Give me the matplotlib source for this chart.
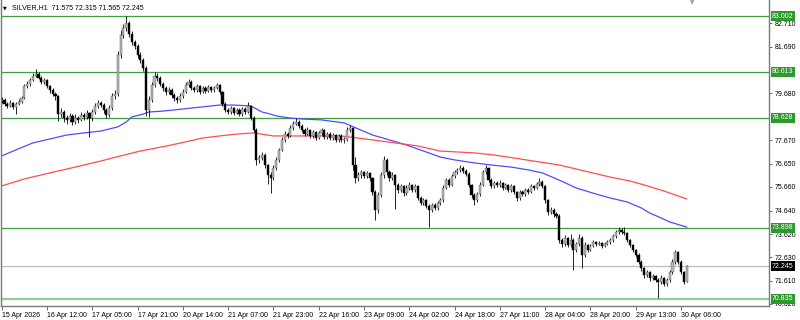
import matplotlib
matplotlib.use('Agg')
import matplotlib.pyplot as plt
import matplotlib.transforms as mtransforms

# hourly SILVER bars, 15 Apr 20:00 .. 30 Apr 08:00 (open = previous close)
first_open = 79.35
closes = [
    79.40, 79.23, 79.14, 79.27, 79.10, 79.23, 79.31, 79.48, 79.99, 80.08,
    80.26, 80.43, 80.52, 80.34, 80.17, 80.26, 79.99, 79.83, 79.65, 79.57,
    78.79, 78.88, 78.62, 78.54, 78.71, 78.45, 78.62, 78.54, 78.75, 78.67,
    78.84, 78.62, 78.88, 79.14, 79.27, 79.18, 78.97, 78.75, 79.05, 79.57,
    79.65, 81.33, 82.19, 82.50, 82.71, 82.24, 81.89, 81.72, 81.33, 81.12,
    80.77, 78.97, 79.40, 80.04, 80.43, 80.34, 80.08, 79.91, 79.74, 79.83,
    79.61, 79.48, 79.40, 79.57, 79.74, 80.04, 80.17, 79.91, 79.83, 79.99,
    79.74, 79.91, 79.78, 79.96, 79.83, 79.91, 80.04, 79.74, 79.23, 78.97,
    78.88, 79.05, 78.84, 78.97, 78.79, 79.01, 78.88, 79.14, 78.62, 78.11,
    76.82, 76.89, 77.03, 76.59, 76.16, 76.03, 76.47, 76.82, 77.25, 77.68,
    77.94, 77.85, 78.19, 78.37, 78.45, 78.28, 78.11, 77.94, 78.11, 77.85,
    78.02, 77.76, 77.98, 78.11, 77.81, 77.94, 77.76, 77.89, 77.68, 77.85,
    77.68, 77.68, 78.11, 78.19, 76.61, 76.03, 76.16, 76.29, 76.12, 76.25,
    76.03, 75.44, 74.66, 75.31, 76.16, 76.82, 76.29, 76.03, 76.16, 75.74,
    75.52, 75.70, 75.39, 75.61, 75.74, 75.52, 75.70, 75.18, 74.97, 75.09,
    74.84, 74.66, 74.88, 74.75, 74.97, 75.09, 75.61, 75.95, 75.74, 76.12,
    76.29, 76.37, 76.47, 76.34, 76.21, 75.74, 75.31, 75.09, 75.35, 75.74,
    76.29, 76.47, 75.95, 75.70, 75.83, 75.74, 75.83, 75.61, 75.74, 75.52,
    75.70, 75.44, 75.18, 75.44, 75.35, 75.52, 75.44, 75.70, 75.61, 75.78,
    75.87, 75.70, 75.09, 74.57, 74.66, 74.48, 74.40, 73.37, 73.19, 73.46,
    73.16, 73.37, 72.94, 73.20, 73.46, 72.72, 73.16, 72.94, 73.11, 73.29,
    73.20, 73.24, 73.11, 73.20, 73.29, 73.37, 73.54, 73.72, 73.80, 73.72,
    73.67, 73.37, 73.16, 72.94, 72.72, 72.42, 72.16, 71.86, 71.99, 71.73,
    71.82, 71.65, 71.56, 71.73, 71.47, 71.65, 71.99, 72.42, 72.85, 72.42,
    71.99, 71.575, 72.245,
]
highs = [
    79.52, 79.48, 79.31, 79.38, 79.33, 79.30, 79.42, 79.58, 80.08, 80.20,
    80.35, 80.55, 80.73, 80.60, 80.42, 80.36, 80.32, 80.05, 79.90, 79.75,
    79.62, 79.05, 78.95, 78.75, 78.85, 78.80, 78.78, 78.70, 78.88, 78.82,
    78.95, 78.90, 79.00, 79.25, 79.40, 79.35, 79.25, 79.05, 79.18, 79.70,
    79.82, 81.50, 82.40, 82.65, 83.00, 82.80, 82.35, 82.00, 81.80, 81.45,
    81.20, 80.85, 79.55, 80.15, 80.62, 80.58, 80.42, 80.18, 79.98, 79.95,
    79.90, 79.70, 79.58, 79.68, 79.85, 80.15, 80.30, 80.25, 80.00, 80.10,
    80.05, 80.02, 79.98, 80.06, 80.02, 80.00, 80.12, 80.10, 79.80, 79.30,
    79.05, 79.15, 79.10, 79.06, 79.04, 79.10, 79.08, 79.30, 79.20, 78.70,
    78.20, 77.05, 77.15, 77.10, 76.65, 76.30, 76.60, 76.95, 77.35, 77.80,
    78.05, 78.02, 78.30, 78.48, 78.63, 78.52, 78.35, 78.18, 78.22, 78.16,
    78.12, 78.08, 78.08, 78.20, 78.15, 78.04, 78.00, 77.98, 77.95, 77.95,
    77.92, 77.80, 78.22, 78.32, 78.25, 76.95, 76.28, 76.40, 76.35, 76.35,
    76.32, 76.10, 75.52, 75.42, 76.28, 76.99, 76.90, 76.38, 76.28, 76.22,
    75.82, 75.80, 75.76, 75.72, 75.85, 75.80, 75.80, 75.76, 75.25, 75.18,
    75.15, 74.92, 74.98, 74.95, 75.06, 75.20, 75.72, 76.05, 76.02, 76.22,
    76.40, 76.48, 76.58, 76.55, 76.42, 76.28, 75.80, 75.40, 75.45, 75.85,
    76.40, 76.62, 76.52, 76.02, 75.92, 75.90, 75.94, 75.88, 75.84, 75.80,
    75.78, 75.76, 75.50, 75.52, 75.52, 75.62, 75.60, 75.80, 75.76, 75.88,
    76.05, 75.95, 75.76, 75.15, 74.80, 74.75, 74.58, 74.48, 73.48, 73.58,
    73.52, 73.62, 73.45, 73.30, 73.62, 73.55, 73.28, 73.22, 73.20, 73.38,
    73.35, 73.32, 73.30, 73.28, 73.36, 73.45, 73.62, 73.82, 73.92, 73.90,
    73.95, 73.72, 73.42, 73.22, 73.00, 72.80, 72.50, 72.22, 72.08, 72.05,
    71.92, 71.88, 71.72, 71.85, 71.80, 71.75, 72.08, 72.55, 72.94, 72.90,
    72.50, 72.05, 72.315,
]
lows = [
    79.28, 79.15, 79.05, 79.08, 79.02, 78.80, 79.18, 79.25, 79.42, 79.90,
    80.00, 80.20, 80.38, 80.28, 80.10, 80.08, 79.90, 79.70, 79.55, 79.40,
    78.49, 78.65, 78.45, 78.38, 78.45, 78.30, 78.36, 78.40, 78.48, 78.52,
    78.58, 77.81, 78.50, 78.80, 79.05, 79.08, 78.85, 78.62, 78.68, 78.98,
    79.45, 79.55, 81.20, 82.05, 82.35, 82.10, 81.78, 81.60, 81.20, 81.00,
    80.65, 78.70, 78.66, 79.30, 79.95, 80.20, 79.98, 79.80, 79.62, 79.65,
    79.50, 79.35, 79.28, 79.32, 79.50, 79.68, 79.95, 79.82, 79.72, 79.75,
    79.65, 79.68, 79.70, 79.72, 79.75, 79.76, 79.85, 79.66, 79.15, 78.88,
    78.78, 78.80, 78.76, 78.78, 78.70, 78.72, 78.80, 78.82, 78.55, 78.00,
    76.60, 76.70, 76.80, 76.45, 75.80, 75.39, 75.95, 76.40, 76.75, 77.20,
    77.60, 77.75, 77.80, 78.10, 78.30, 78.18, 78.02, 77.85, 77.88, 77.76,
    77.78, 77.66, 77.70, 77.90, 77.72, 77.74, 77.66, 77.68, 77.58, 77.60,
    77.58, 77.55, 77.62, 78.02, 76.39, 75.81, 75.92, 76.05, 76.02, 76.05,
    75.92, 75.30, 74.23, 74.55, 75.22, 76.05, 76.15, 75.90, 75.95, 74.70,
    75.40, 75.42, 75.28, 75.30, 75.52, 75.42, 75.45, 75.08, 74.86, 74.88,
    74.75, 73.93, 74.58, 74.66, 74.68, 74.90, 75.02, 75.55, 75.65, 75.68,
    76.05, 76.22, 76.30, 76.25, 76.12, 75.65, 75.20, 74.88, 75.00, 75.28,
    75.68, 76.20, 75.85, 75.60, 75.62, 75.65, 75.66, 75.52, 75.55, 75.44,
    75.45, 75.35, 75.05, 75.10, 75.26, 75.28, 75.35, 75.38, 75.52, 75.55,
    75.70, 75.60, 74.98, 74.45, 74.48, 74.36, 74.30, 73.25, 73.05, 73.10,
    73.05, 73.08, 72.08, 72.85, 73.12, 72.15, 72.65, 72.85, 72.88, 73.05,
    73.12, 73.14, 73.04, 73.06, 73.14, 73.22, 73.30, 73.48, 73.65, 73.64,
    73.58, 73.28, 73.05, 72.85, 72.62, 72.32, 72.05, 71.75, 71.78, 71.62,
    71.65, 71.55, 70.88, 71.48, 71.38, 71.40, 71.58, 71.92, 72.35, 72.32,
    71.90, 71.50, 71.565,
]

# moving averages (bar index, price)
blue_bars = [0, 5, 11, 17, 23, 29, 35, 38, 41, 44, 46, 50, 52, 57, 61, 67, 71,
             77, 82, 88, 90, 92, 95, 97, 102, 106, 113, 121, 126, 131, 137, 143,
             150, 155, 160, 167, 173, 180, 186, 191, 197, 203, 210, 215, 221,
             226, 229, 233, 236, 242]
blue_vals = [76.99, 77.25, 77.55, 77.72, 77.89, 77.98, 78.06, 78.15, 78.24, 78.45,
             78.67, 78.79, 78.88, 78.92, 78.97, 79.05, 79.10, 79.18, 79.18, 79.14,
             79.01, 78.88, 78.79, 78.71, 78.62, 78.58, 78.54, 78.41, 78.15, 77.89,
             77.68, 77.46, 77.16, 76.94, 76.82, 76.69, 76.60, 76.51, 76.39, 76.26,
             75.95, 75.61, 75.35, 75.18, 75.01, 74.75, 74.53, 74.32, 74.15, 73.93]
red_bars = [0, 8, 17, 26, 35, 42, 49, 60, 71, 77, 83, 89, 96, 106, 120, 131, 139,
            147, 155, 167, 174, 181, 190, 197, 206, 215, 222, 227, 234, 242]
red_vals = [75.70, 76.00, 76.26, 76.51, 76.77, 76.99, 77.20, 77.46, 77.76, 77.85,
            77.93, 77.98, 77.85, 77.85, 77.85, 77.68, 77.55, 77.42, 77.20, 77.12,
            77.03, 76.90, 76.73, 76.60, 76.34, 76.08, 75.91, 75.74, 75.48, 75.14]

levels = [83.002, 80.613, 78.628, 73.898]
low_level = 70.835
bid = 72.245

price_ticks = [82.710, 81.690, 79.680, 77.670, 76.650, 75.660,
               74.640, 73.620, 72.630, 71.610, 70.620]
time_ticks = [0, 16, 32, 48, 64, 80, 96, 112, 128, 144, 160, 176, 192, 208, 224, 240]
time_labels = ['15 Apr 2026', '16 Apr 12:00', '17 Apr 05:00', '17 Apr 21:00',
               '20 Apr 14:00', '21 Apr 07:00', '21 Apr 23:00', '22 Apr 16:00',
               '23 Apr 09:00', '24 Apr 02:00', '24 Apr 18:00', '27 Apr 11:00',
               '28 Apr 04:00', '28 Apr 20:00', '29 Apr 13:00', '30 Apr 06:00']

plt.rcParams['font.family'] = ['Liberation Sans', 'DejaVu Sans']

fig = plt.figure(figsize=(8, 3.2), dpi=100)
ax = fig.add_axes([1 / 800, 14.5 / 320, 768 / 800, 305.5 / 320])

opens = [first_open] + closes[:-1]
for i, (o, c, h, l) in enumerate(zip(opens, closes, highs, lows)):
    h = max(h, o, c)
    l = min(l, o, c)
    ax.vlines(i, l, h, color='black', lw=0.6, zorder=3)
    bottom = min(o, c)
    height = max(abs(c - o), 0.03)
    if c >= o:
        ax.bar(i, height, bottom=bottom, width=0.75, color='#b8b8b8',
               edgecolor='#505050', linewidth=0.3, zorder=4)
    else:
        ax.bar(i, height, bottom=bottom, width=0.75, color='black',
               edgecolor='black', linewidth=0.3, zorder=4)

ax.plot(blue_bars, blue_vals, color='#4d4dff', lw=0.9, zorder=2)
ax.plot(red_bars, red_vals, color='#ff4d4d', lw=0.9, zorder=2)

for lv in levels:
    ax.axhline(lv, color='#3f9f3f', lw=0.9, zorder=1)
ax.axhline(low_level, color='#8fcf8f', lw=1.6, zorder=1)
ax.axhline(bid, color='#b8bfcc', lw=0.9, zorder=1)

ax.set_xlim(-0.25, 271.1)
ax.set_ylim(70.554, 83.70)

ax.yaxis.tick_right()
ax.set_yticks(price_ticks)
ax.set_yticklabels([f'{p:.3f}' for p in price_ticks])
ax.set_xticks(time_ticks)
ax.set_xticklabels(time_labels, ha='left')
ax.tick_params(axis='y', length=2.5, width=0.6, pad=1.5, labelsize=5, color='#555555')
ax.tick_params(axis='x', length=3, width=0.6, pad=1.5, labelsize=5, color='#555555')

ax.spines['top'].set_visible(False)
for s in ['left', 'right', 'bottom']:
    ax.spines[s].set_color('#7a7a7a')
    ax.spines[s].set_linewidth(1)

# price labels on the right scale
tr = mtransforms.blended_transform_factory(ax.transAxes, ax.transData)
for lv in levels + [low_level]:
    ax.text(1.004, lv, f'{lv:.3f}', transform=tr, fontsize=5, color='white',
            va='center', ha='left', clip_on=False, zorder=10,
            bbox=dict(boxstyle='square,pad=0.2', fc='#2e9a2e', ec='none'))
ax.text(1.004, bid, f'{bid:.3f}', transform=tr, fontsize=5, color='white',
        va='center', ha='left', clip_on=False, zorder=10,
        bbox=dict(boxstyle='square,pad=0.2', fc='black', ec='none'))

fig.text(3 / 800, 1 - 8 / 320, '\u25bc', fontsize=3.5, va='center', family='DejaVu Sans')
fig.text(12 / 800, 1 - 8 / 320, 'SILVER,H1  71.575 72.315 71.565 72.245',
         fontsize=5, va='center')
fig.text(690 / 800, 1 - 3 / 320, '\u25bc', fontsize=4, va='center',
         color='#9a9a9a', family='DejaVu Sans')

fig.savefig('out.png', dpi=100)
